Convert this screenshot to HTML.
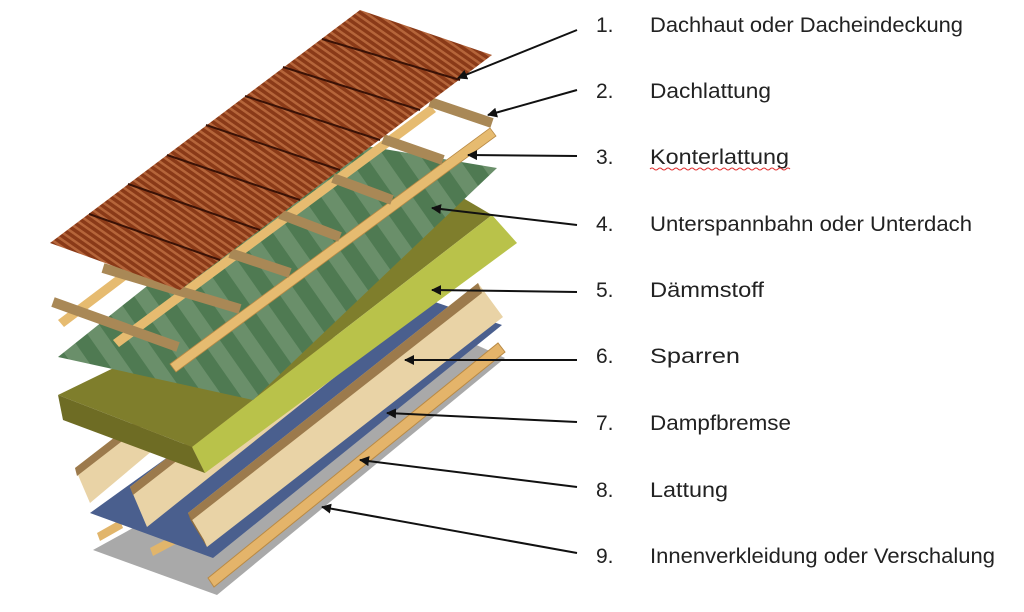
<!DOCTYPE html>
<html><head><meta charset="utf-8"><style>
html,body{margin:0;padding:0;background:#fff;}
svg{display:block;}
text{font-family:"Liberation Sans",sans-serif;font-size:21px;fill:#222;}
</style></head><body>
<svg width="1024" height="612" viewBox="0 0 1024 612" xmlns="http://www.w3.org/2000/svg">
<defs>
<marker id="ah" markerWidth="10" markerHeight="10" refX="9" refY="5" orient="auto" markerUnits="userSpaceOnUse">
<path d="M0,0 L10,5 L0,10 Z" fill="#111"/></marker>
<pattern id="tiles" width="6" height="6" patternUnits="userSpaceOnUse" patternTransform="rotate(-55)">
<rect width="6" height="6" fill="#8a3a18"/><rect width="2.5" height="6" fill="#b5653a"/></pattern>
<pattern id="green" width="30" height="30" patternUnits="userSpaceOnUse" patternTransform="rotate(-35)">
<rect width="30" height="30" fill="#4f7a52"/><rect width="15" height="30" fill="#6a8f6a"/></pattern>
</defs>

<!-- grey board -->
<polygon points="93,550 470,342 505,358 217,595" fill="#a9a9a9"/>
<polygon points="97,533 120,520 123,528 100,541" fill="#e1b56b"/>
<polygon points="150,548 180,532 183,540 153,556" fill="#e1b56b"/>
<!-- blue membrane -->
<polygon points="90,513 400,290 502,325 213,558" fill="#4a5f8e"/>
<!-- front batten -->
<polygon points="208,578 498,343 505,352 214,587" fill="#e4b46a" stroke="#b98a45" stroke-width="1"/>
<!-- rafters -->
<polygon points="75,468 150,410 165,440 90,503" fill="#e9d3a6"/>
<polygon points="75,468 150,410 152,418 77,476" fill="#9c7a4c"/>
<polygon points="130,487 330,330 350,365 147,527" fill="#e9d3a6"/>
<polygon points="130,487 330,330 333,339 133,495" fill="#9c7a4c"/>
<polygon points="188,513 478,283 503,317 207,547" fill="#e9d3a6"/>
<polygon points="188,513 478,283 482,293 191,521" fill="#9c7a4c"/>
<polygon points="188,513 191,521 207,547 204,540" fill="#8f6e40"/>

<!-- insulation block -->
<polygon points="58,395 463,198 492,215 192,447" fill="#7f7e2c"/>
<polygon points="192,447 492,215 517,243 205,473" fill="#b9c24a"/>
<polygon points="58,395 192,447 205,473 63,420" fill="#6e6c24"/>

<!-- green membrane -->
<polygon points="58,357 330,140 497,168 253,400" fill="url(#green)"/>

<!-- counter battens -->
<polygon points="58,320 330,115 336,121 64,327" fill="#e6bb70"/>
<polygon points="113,340 430,105 436,112 119,347" fill="#e6bb70"/>
<polygon points="170,364 490,128 496,136 176,372" fill="#e6bb70" stroke="#b98a45" stroke-width="0.8"/>

<!-- cross battens -->
<g stroke="#a98856" stroke-width="10" stroke-linecap="butt">
<line x1="430" y1="102" x2="492" y2="123"/>
<line x1="383" y1="139" x2="443" y2="160"/>
<line x1="333" y1="178" x2="392" y2="200"/>
<line x1="280" y1="214" x2="340" y2="237"/>
<line x1="230" y1="253" x2="290" y2="273"/>
<line x1="103" y1="268" x2="240" y2="309"/>
<line x1="53" y1="302" x2="178" y2="347"/>
</g>

<!-- tiles -->
<polygon points="360,10 492,55 180,290 50,243" fill="url(#tiles)"/>
<g stroke="#3a1206" stroke-width="2" fill="none">
<line x1="322" y1="39" x2="460" y2="80"/>
<line x1="283" y1="67" x2="420" y2="110"/>
<line x1="245" y1="96" x2="380" y2="140"/>
<line x1="206" y1="125" x2="340" y2="170"/>
<line x1="167" y1="155" x2="300" y2="200"/>
<line x1="128" y1="184" x2="260" y2="230"/>
<line x1="89" y1="214" x2="220" y2="260"/>
</g>

<!-- arrows -->
<g stroke="#111" stroke-width="2" fill="none" marker-end="url(#ah)">
<line x1="577" y1="30" x2="458" y2="78"/>
<line x1="577" y1="90" x2="488" y2="115"/>
<line x1="577" y1="156" x2="468" y2="155"/>
<line x1="577" y1="225" x2="432" y2="208"/>
<line x1="577" y1="292" x2="432" y2="290"/>
<line x1="577" y1="360" x2="405" y2="360"/>
<line x1="577" y1="422" x2="387" y2="413"/>
<line x1="577" y1="487" x2="360" y2="460"/>
<line x1="577" y1="553" x2="322" y2="507"/>
</g>

<!-- labels -->
<g>
<text x="596" y="32">1.</text><text x="650" y="32" textLength="313" lengthAdjust="spacingAndGlyphs">Dachhaut oder Dacheindeckung</text>
<text x="596" y="98">2.</text><text x="650" y="98" textLength="121" lengthAdjust="spacingAndGlyphs">Dachlattung</text>
<text x="596" y="164">3.</text><text x="650" y="164" textLength="139" lengthAdjust="spacingAndGlyphs">Konterlattung</text>
<path d="M650,169 q2,-2 4,0 t4,0 t4,0 t4,0 t4,0 t4,0 t4,0 t4,0 t4,0 t4,0 t4,0 t4,0 t4,0 t4,0 t4,0 t4,0 t4,0 t4,0 t4,0 t4,0 t4,0 t4,0 t4,0 t4,0 t4,0 t4,0 t4,0 t4,0 t4,0 t4,0 t4,0 t4,0 t4,0 t4,0 t4,0" stroke="#e03030" stroke-width="1" fill="none"/>
<text x="596" y="231">4.</text><text x="650" y="231" textLength="322" lengthAdjust="spacingAndGlyphs">Unterspannbahn oder Unterdach</text>
<text x="596" y="297">5.</text><text x="650" y="297" textLength="114" lengthAdjust="spacingAndGlyphs">Dämmstoff</text>
<text x="596" y="363">6.</text><text x="650" y="363" textLength="90" lengthAdjust="spacingAndGlyphs">Sparren</text>
<text x="596" y="430">7.</text><text x="650" y="430" textLength="141" lengthAdjust="spacingAndGlyphs">Dampfbremse</text>
<text x="596" y="497">8.</text><text x="650" y="497" textLength="78" lengthAdjust="spacingAndGlyphs">Lattung</text>
<text x="596" y="563">9.</text><text x="650" y="563" textLength="345" lengthAdjust="spacingAndGlyphs">Innenverkleidung oder Verschalung</text>
</g>
</svg>
</body></html>
